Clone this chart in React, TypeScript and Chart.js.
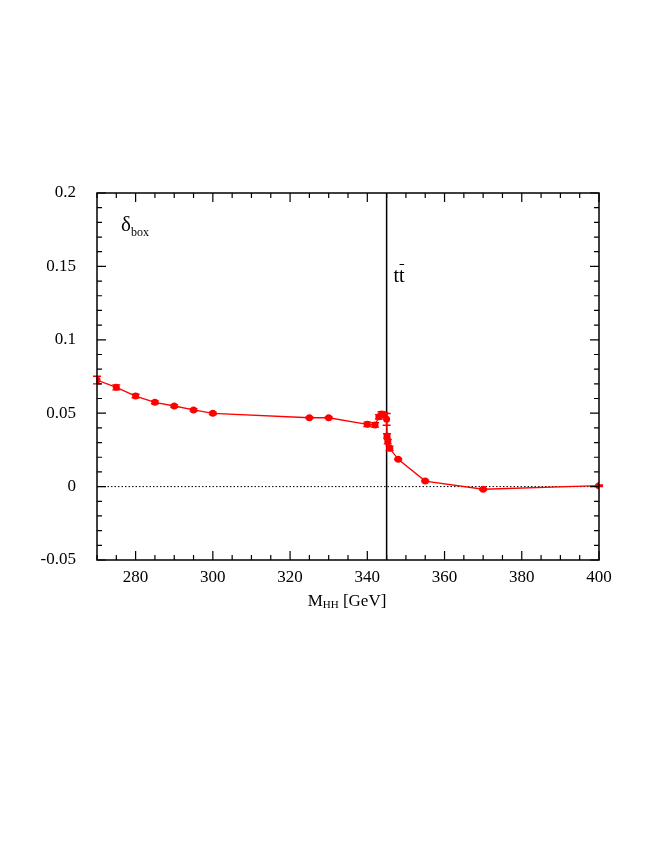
import { useEffect, useRef } from "react";
import { Chart, registerables } from "chart.js";

Chart.register(...registerables);

// ---- data ----
const mhh = [270, 275, 280, 285, 290, 295, 300, 325, 330, 340, 342, 343, 343.7, 344.4, 345, 345.1, 345.3, 345.8, 348, 355, 370, 400];
const deltaBox = [0.0726, 0.0676, 0.0617, 0.0574, 0.0549, 0.0522, 0.0499, 0.0469, 0.0469, 0.0424, 0.042, 0.0475, 0.0495, 0.0488, 0.0458, 0.0345, 0.0306, 0.0261, 0.0186, 0.0038, -0.0018, 0.0006];
const deltaErr = [0.0026, 0.0017, 0.0012, 0.001, 0.0008, 0.0008, 0.0008, 0.0005, 0.0005, 0.0015, 0.0015, 0.0015, 0.0015, 0.0015, 0.004, 0.0015, 0.0015, 0.0015, 0.0005, 0.0005, 0.0005, 0.0005];

const xTickLabels = [280, 300, 320, 340, 360, 380, 400];
const yTickLabels = [-0.05, 0, 0.05, 0.1, 0.15, 0.2];
const xMinorTicks = [270, 275, 280, 285, 290, 295, 300, 305, 310, 315, 320, 325, 330, 335, 340, 345, 350, 355, 360, 365, 370, 375, 380, 385, 390, 395, 400];
const yMinorTicks = [-0.05, -0.04, -0.03, -0.02, -0.01, 0, 0.01, 0.02, 0.03, 0.04, 0.05, 0.06, 0.07, 0.08, 0.09, 0.1, 0.11, 0.12, 0.13, 0.14, 0.15, 0.16, 0.17, 0.18, 0.19, 0.2];
const threshold = 345;

const FONT = '"Liberation Serif", "DejaVu Serif", serif';
const RED = "#ff0000";

const decorPlugin = {
  id: "decor",
  beforeDatasetsDraw(chart: any) {
    const { ctx, chartArea: a, scales } = chart;
    const xs = scales.x, ys = scales.y;
    ctx.save();
    // dotted zero line
    const y0 = ys.getPixelForValue(0);
    ctx.strokeStyle = "#000";
    ctx.lineWidth = 1;
    ctx.setLineDash([1.5, 2]);
    ctx.beginPath();
    ctx.moveTo(a.left, y0);
    ctx.lineTo(a.right, y0);
    ctx.stroke();
    ctx.setLineDash([]);
    // threshold line
    const xt = xs.getPixelForValue(threshold);
    ctx.lineWidth = 1.5;
    ctx.beginPath();
    ctx.moveTo(xt, a.top);
    ctx.lineTo(xt, a.bottom);
    ctx.stroke();
    // error bars
    ctx.strokeStyle = RED;
    ctx.lineWidth = 1.4;
    for (let i = 0; i < mhh.length; i++) {
      const px = xs.getPixelForValue(mhh[i]);
      const yh = ys.getPixelForValue(deltaBox[i] + deltaErr[i]);
      const yl = ys.getPixelForValue(deltaBox[i] - deltaErr[i]);
      ctx.beginPath();
      ctx.moveTo(px, yh);
      ctx.lineTo(px, yl);
      ctx.moveTo(px - 4, yh);
      ctx.lineTo(px + 4, yh);
      ctx.moveTo(px - 4, yl);
      ctx.lineTo(px + 4, yl);
      ctx.stroke();
    }
    ctx.restore();
  },
  afterDatasetsDraw(chart: any) {
    const { ctx, chartArea: a, scales } = chart;
    const xs = scales.x, ys = scales.y;
    ctx.save();
    ctx.strokeStyle = "#000";
    ctx.lineWidth = 1.5;
    ctx.strokeRect(a.left, a.top, a.right - a.left, a.bottom - a.top);
    ctx.lineWidth = 1.2;
    ctx.beginPath();
    for (const v of xMinorTicks) {
      const px = xs.getPixelForValue(v);
      const len = xTickLabels.includes(v) ? 9 : 5;
      ctx.moveTo(px, a.bottom);
      ctx.lineTo(px, a.bottom - len);
      ctx.moveTo(px, a.top);
      ctx.lineTo(px, a.top + len);
    }
    for (const v of yMinorTicks) {
      const py = ys.getPixelForValue(v);
      const major = yTickLabels.some((t) => Math.abs(t - v) < 1e-9);
      const len = major ? 9 : 5;
      ctx.moveTo(a.left, py);
      ctx.lineTo(a.left + len, py);
      ctx.moveTo(a.right, py);
      ctx.lineTo(a.right - len, py);
    }
    ctx.stroke();

    ctx.fillStyle = "#000";
    ctx.textBaseline = "alphabetic";
    ctx.textAlign = "left";
    // delta_box label
    ctx.font = `21px ${FONT}`;
    ctx.fillText("δ", 121, 231);
    ctx.font = `12px ${FONT}`;
    ctx.fillText("box", 131, 236);
    // t tbar label
    ctx.font = `20px ${FONT}`;
    ctx.fillText("tt", 393.5, 282);
    const wt = ctx.measureText("t").width;
    ctx.lineWidth = 1;
    ctx.beginPath();
    ctx.moveTo(393.5 + wt + 0.5, 264.5);
    ctx.lineTo(393.5 + 2 * wt - 0.5, 264.5);
    ctx.stroke();
    // x axis title
    const cx = (a.left + a.right) / 2;
    ctx.font = `17px ${FONT}`;
    const wM = ctx.measureText("M").width;
    ctx.font = `11px ${FONT}`;
    const wHH = ctx.measureText("HH").width;
    ctx.font = `17px ${FONT}`;
    const wG = ctx.measureText(" [GeV]").width;
    let tx = cx - (wM + wHH + wG) / 2 - 1;
    const by = 606;
    ctx.fillText("M", tx, by);
    tx += wM;
    ctx.font = `11px ${FONT}`;
    ctx.fillText("HH", tx, by + 2);
    tx += wHH;
    ctx.font = `17px ${FONT}`;
    ctx.fillText(" [GeV]", tx, by);
    ctx.restore();
  },
};

export default function App() {
  const ref = useRef<HTMLCanvasElement | null>(null);
  useEffect(() => {
    if (!ref.current) return;
    const chart = new Chart(ref.current, {
      type: "line",
      data: {
        datasets: [
          {
            data: mhh.map((x, i) => ({ x, y: deltaBox[i] })),
            borderColor: RED,
            backgroundColor: RED,
            borderWidth: 1.3,
            pointRadius: 3.5,
            pointBorderWidth: 0,
            pointBackgroundColor: RED,
            tension: 0,
          },
        ],
      },
      options: {
        responsive: false,
        animation: false,
        layout: { padding: { left: 0, right: 64, top: 193, bottom: 0 } },
        plugins: { legend: { display: false }, tooltip: { enabled: false } },
        scales: {
          x: {
            type: "linear",
            min: 270,
            max: 400,
            grid: { display: false, drawTicks: false },
            border: { display: false },
            afterBuildTicks: (s: any) => {
              s.ticks = xTickLabels.map((v) => ({ value: v }));
            },
            afterFit: (s: any) => {
              s.height = 298;
            },
            ticks: {
              padding: 7,
              color: "#000",
              font: { family: FONT, size: 17 },
              maxRotation: 0,
              autoSkip: false,
              callback: (v: any) => String(v),
            },
          },
          y: {
            type: "linear",
            min: -0.05,
            max: 0.2,
            grid: { display: false, drawTicks: false },
            border: { display: false },
            afterBuildTicks: (s: any) => {
              s.ticks = yTickLabels.map((v) => ({ value: v }));
            },
            afterFit: (s: any) => {
              s.width = 97;
            },
            ticks: {
              padding: 21,
              color: "#000",
              font: { family: FONT, size: 17 },
              autoSkip: false,
              callback: (v: any) => String(v),
            },
          },
        },
      },
      plugins: [decorPlugin],
    } as any);
    return () => chart.destroy();
  }, []);
  return (
    <div style={{ position: "absolute", left: 0, top: 0, width: 663, height: 858, background: "#fff" }}>
      <canvas ref={ref} width={663} height={858} style={{ display: "block" }} />
    </div>
  );
}
